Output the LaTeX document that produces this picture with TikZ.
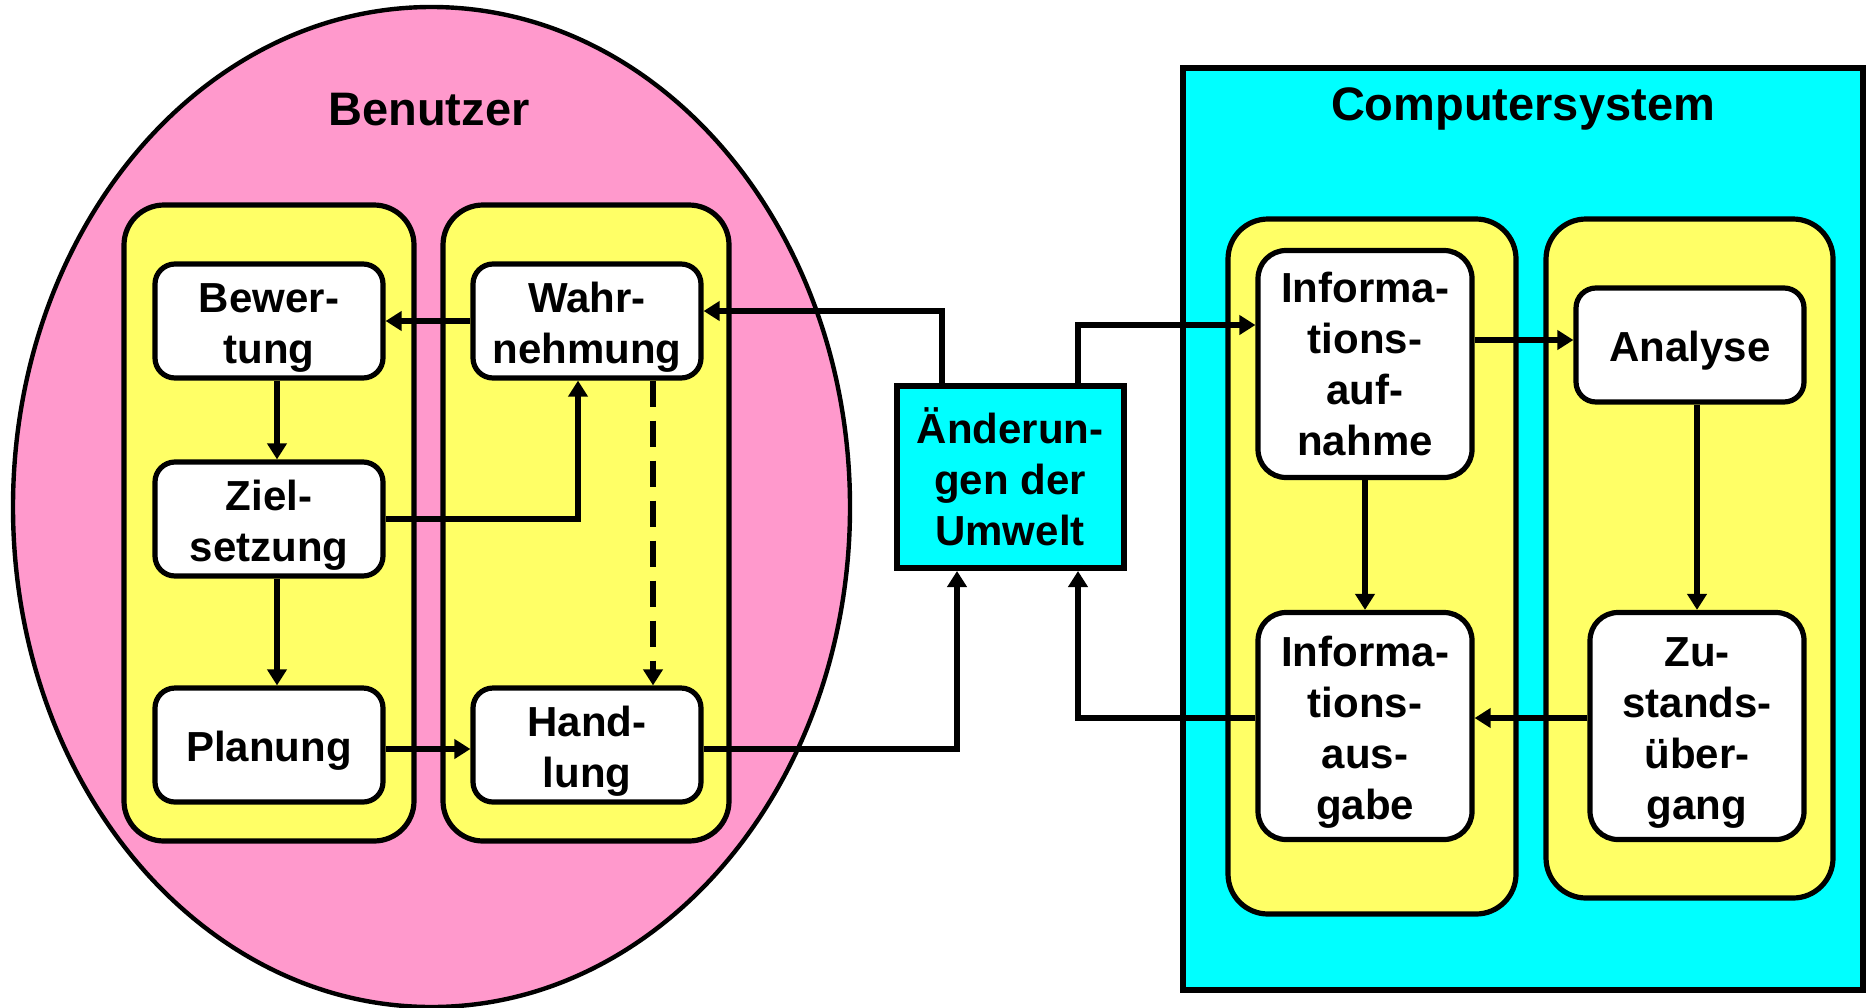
\documentclass[tikz,border=0pt]{standalone}
\usepackage{fontspec}
\setmainfont{Liberation Sans}
\usetikzlibrary{arrows.meta}
\usetikzlibrary{shapes.geometric}

\definecolor{userpink}{HTML}{FF99CC}
\definecolor{colyellow}{HTML}{FFFF66}
\definecolor{syscyan}{HTML}{00FFFF}

% first line a bit taller, so the text sits lower in the box
\newcommand{\boxstrut}{\rule{0pt}{21pt}}

\tikzset{
  box/.style={draw, line width=2.6pt, fill=white, rounded corners=10pt, align=center, inner sep=0pt,
    minimum width=114pt, minimum height=57pt, font=\fontsize{21}{25.5}\selectfont\bfseries},
  tallbox/.style={box, rounded corners=14pt, minimum width=107pt, minimum height=113.5pt},
  column/.style={draw, line width=2.6pt, fill=colyellow, rounded corners=20pt, inner sep=0pt},
  title/.style={font=\fontsize{23.5}{28}\selectfont\bfseries},
  link/.style={line width=2.8pt, -{Triangle[length=8pt,width=9.5pt]}}
}

\begin{document}
\begin{tikzpicture}[x=0.5pt, y=-0.5pt]
          \useasboundingbox (0,0) rectangle (1866,1007);
          % user
          \node (user) [ellipse, draw, line width=2.2pt, fill=userpink, minimum width=418.5pt, minimum height=500pt] at (431.5,507) {};
          \node (usertitle) [title] at (429,110) {Benutzer};
          \node (colA) [column, minimum width=145pt, minimum height=318pt] at (269,523) {};
          \node (colB) [column, minimum width=143pt, minimum height=318pt] at (586,523) {};
          \node (bew) [box] at (269,321) {\boxstrut Bewer-\\tung};
          \node (ziel) [box] at (269,519) {\boxstrut Ziel-\\setzung};
          \node (plan) [box] at (269,745) {\boxstrut Planung};
          \node (wahr) [box] at (587,321) {\boxstrut Wahr-\\nehmung};
          \node (hand) [box] at (587,745) {\boxstrut Hand-\\lung};
          % environment
          \node (env) [draw, line width=3pt, fill=syscyan, minimum width=113.5pt, minimum height=91pt, inner sep=0pt,
            align=center, font=\fontsize{21}{25.5}\selectfont\bfseries] at (1010,477) {Änderun-\\gen der\\Umwelt};
          % computer system
          \node (sys) [draw, line width=3pt, fill=syscyan, minimum width=340pt, minimum height=461pt] at (1523,529) {};
          \node (systitle) [title] at (1523,109) {Computersystem};
          \node (colC) [column, minimum width=144pt, minimum height=347.5pt] at (1372,566.5) {};
          \node (colD) [column, minimum width=143.5pt, minimum height=339.5pt] at (1689.5,558.5) {};
          \node (infoin) [tallbox] at (1365,364) {Informa-\\tions-\\auf-\\nahme};
          \node (infoout) [tallbox] at (1365,726) {\boxstrut Informa-\\tions-\\aus-\\gabe};
          \node (analyse) [box] at (1690,345) {\boxstrut Analyse};
          \node (state) [tallbox] at (1697,726) {\boxstrut Zu-\\stands-\\über-\\gang};
          % links on the user side
          \draw [link] (wahr) -- (bew);
          \draw [link] ([xshift=4pt]bew.south) -- ([xshift=4pt]ziel.north);
          \draw [link] ([xshift=4pt]ziel.south) -- ([xshift=4pt]plan.north);
          \draw [link] (ziel.east) -| ([xshift=-4.5pt]wahr.south);
          \draw [link, dash pattern=on 13pt off 7pt] ([xshift=33pt]wahr.south) -- ([xshift=33pt]hand.north);
          \draw [link] ([yshift=-2pt]plan.east) -- ([yshift=-2pt]hand.west);
          % links through the environment
          \draw [link] ([yshift=-2pt]hand.east) -| ([xshift=-26.5pt]env.south);
          \draw [link] ([xshift=-34pt]env.north) |- ([yshift=5pt]wahr.east);
          \draw [link] ([xshift=34pt]env.north) |- ([yshift=19.5pt]infoin.west);
          \draw [link] ([yshift=4pt]infoout.west) -| ([xshift=34pt]env.south);
          % links in the system
          \draw [link] ([yshift=12pt]infoin.east) -- ([yshift=12pt]infoin.east -| analyse.west);
          \draw [link] (infoin) -- (infoout);
          \draw [link] (state.north |- analyse.south) -- (state.north);
          \draw [link] ([yshift=4pt]state.west) -- ([yshift=4pt]infoout.east);
        \end{tikzpicture}
\end{document}
